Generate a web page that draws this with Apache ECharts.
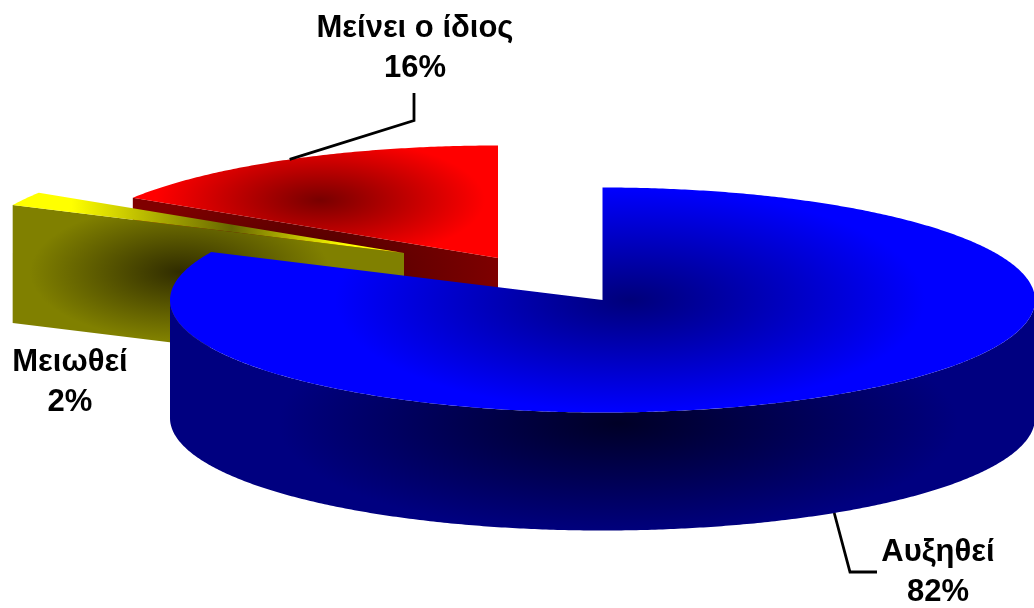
<!DOCTYPE html>
<html>
<head>
<meta charset="utf-8">
<style>html,body{margin:0;padding:0;background:#fff}#c{width:1034px;height:608px}</style>
<script src="https://cdn.jsdelivr.net/npm/echarts@6/dist/echarts.min.js"></script>
</head>
<body>
<div id="c"></div>
<script>
// Data
const categories = ['Αυξηθεί', 'Μειωθεί', 'Μείνει ο ίδιος'];
const shares = [82, 2, 16];

// Projection / layout of the tilted pie
const RX = 432.5, RY = 112.5, DEPTH = 118;
const sliceCenters = [[602.5, 300], [404, 253], [498, 258]];
const sliceOrder = [30, 10, 0];
const labelBoxes = [[938, 572], [70, 382], [415, 48]];
const leaderBends = [[[850, 572], [877, 572]], null, [[414, 120.5], [414, 93]]];

// Styles: each face is a path gradient approximated by an ellipse [cx, cy, rx, ry, inner, outer]
const topShade = [
  [630, 300, 295, 112, '#00007a', '#0000ff'],
  null,
  [320, 200, 165, 62, '#780000', '#ff0000']
];
const wallShade = [
  [618, 423, 340, 112, '#000026', '#000080'],
  [180, 272, 150, 68, '#302c00', '#808000'],
  [315, 270, 190, 100, '#4a0000', '#800000']
];

const rad = d => d * Math.PI / 180;
const rim = (c, deg, drop) => [c[0] + RX * Math.sin(rad(deg)), c[1] - RY * Math.cos(rad(deg)) + (drop || 0)];
function arc(c, a0, a1, drop) {
  const pts = [], n = Math.max(2, Math.ceil(Math.abs(a1 - a0) * 2));
  for (let i = 0; i <= n; i++) pts.push(rim(c, a0 + (a1 - a0) * i / n, drop));
  return pts;
}
function shaded(points, s, z2) {
  const k = s[2] / s[3];
  return {
    type: 'polygon', z2, scaleX: 1, scaleY: 1 / k, originX: 0, originY: 0,
    shape: { points: points.map(p => [p[0], p[1] * k]) },
    style: {
      fill: new echarts.graphic.RadialGradient(s[0], s[1] * k, s[2],
        [{ offset: 0, color: s[4] }, { offset: 1, color: s[5] }], true)
    }
  };
}

const total = shares.reduce((a, b) => a + b, 0);
const starts = shares.map((_, i) => shares.slice(0, i).reduce((a, b) => a + b, 0) / total * 360);

function renderItem(params, api) {
  const i = params.dataIndex;
  const c = sliceCenters[i], base = sliceOrder[i];
  const a0 = starts[i], a1 = a0 + api.value(0) / total * 360;
  const top = [c].concat(arc(c, a0, a1));
  const kids = [];

  // Cut face at the start angle, seen when the slice lies on the left
  if (a0 > 180) {
    const e = rim(c, a0);
    kids.push(shaded([c, e, [e[0], e[1] + DEPTH], [c[0], c[1] + DEPTH]], wallShade[i], base + 1));
  }
  // Outer front wall
  const f0 = Math.max(a0, 90), f1 = Math.min(a1, 270);
  if (f1 > f0) {
    const upper = arc(c, f0, f1), lower = arc(c, f1, f0, DEPTH);
    kids.push(shaded(upper.concat(lower), wallShade[i], base + 1));
  }
  // Top face
  if (topShade[i]) {
    kids.push(shaded(top, topShade[i], base + 2));
  } else {
    const e = rim(c, a0);
    kids.push({
      type: 'polygon', z2: base + 2, shape: { points: top },
      style: {
        fill: new echarts.graphic.LinearGradient(e[0], 0, c[0], 0, [
          { offset: 0, color: '#ffff00' }, { offset: 0.15, color: '#ffff00' },
          { offset: 0.56, color: '#666600' }, { offset: 0.85, color: '#ffff00' },
          { offset: 1, color: '#ffff00' }
        ], true)
      }
    });
  }
  // Leader line from the rim at the slice's middle angle
  if (leaderBends[i]) {
    const mid = (a0 + a1) / 2;
    const drop = Math.cos(rad(mid)) < 0 ? DEPTH : 0;
    kids.push({
      type: 'polyline', z2: 50,
      shape: { points: [rim(c, mid, drop)].concat(leaderBends[i]) },
      style: { stroke: '#000', lineWidth: 2.8, fill: null }
    });
  }
  // Label
  kids.push({
    type: 'text', z2: 60,
    style: {
      x: labelBoxes[i][0], y: labelBoxes[i][1],
      text: categories[i] + '\n' + api.value(0) + '%',
      fill: '#000', fontFamily: '"Liberation Sans", Arial, sans-serif',
      fontWeight: 'bold', fontSize: 31, lineHeight: 40,
      textAlign: 'center', textVerticalAlign: 'middle'
    }
  });
  return { type: 'group', children: kids };
}

const chart = echarts.init(document.getElementById('c'), null, { renderer: 'canvas' });
chart.setOption({
  animation: false,
  backgroundColor: '#ffffff',
  series: [{
    type: 'custom',
    coordinateSystem: 'none',
    renderItem,
    silent: true,
    clip: false,
    data: shares.map((v, i) => ({ name: categories[i], value: [v] }))
  }]
});
</script>
</body>
</html>
